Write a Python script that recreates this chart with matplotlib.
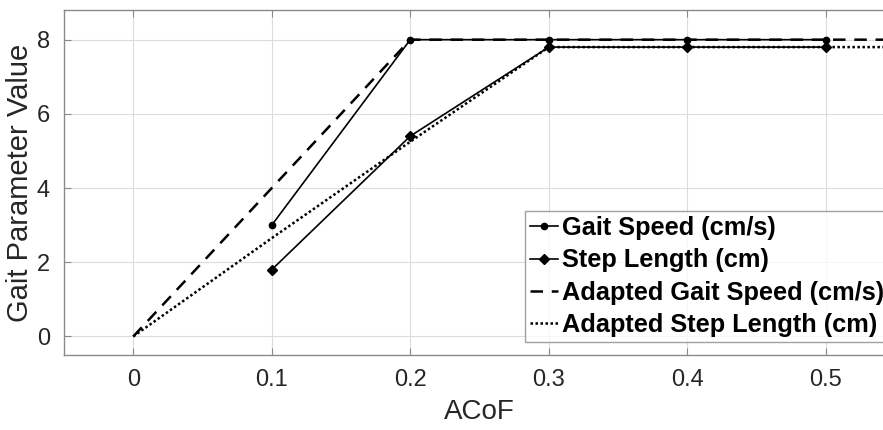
import matplotlib.pyplot as plt

plt.rcParams['font.family'] = ['Liberation Sans', 'DejaVu Sans']

acof = [0.1, 0.2, 0.3, 0.4, 0.5]
gait_speed = [3.0, 8.0, 8.0, 8.0, 8.0]
step_length = [1.8, 5.4, 7.8, 7.8, 7.8]

acof_adapted = [0.0, 0.1, 0.2, 0.3, 0.4, 0.5, 0.6]
adapted_speed = [0.0, 4.0, 8.0, 8.0, 8.0, 8.0, 8.0]
adapted_step = [0.0, 2.65, 5.25, 7.8, 7.8, 7.8, 7.8]

xticks = [0, 0.1, 0.2, 0.3, 0.4, 0.5]
xtick_labels = ['0', '0.1', '0.2', '0.3', '0.4', '0.5']
yticks = [0, 2, 4, 6, 8]

fig = plt.figure(figsize=(8.83, 4.30), dpi=100)
ax = fig.add_axes([64/883, 1 - 355/430, 831/883, 345/430])

ax.plot(acof, gait_speed, color='black', lw=1.2, marker='o', ms=4.5,
        label='Gait Speed (cm/s)')
ax.plot(acof, step_length, color='black', lw=1.2, marker='D', ms=5,
        label='Step Length (cm)')
ax.plot(acof_adapted, adapted_speed, color='black', lw=1.8, ls=(0, (5, 3.5)),
        label='Adapted Gait Speed (cm/s)')
ax.plot(acof_adapted, adapted_step, color='black', lw=1.8, ls=(0, (1, 1)),
        label='Adapted Step Length (cm)')

ax.set_xlim(-0.05, 0.55)
ax.set_ylim(-0.5, 8.8)
ax.set_xticks(xticks)
ax.set_xticklabels(xtick_labels)
ax.set_yticks(yticks)

ax.grid(True, color='#dcdcdc', lw=0.8)
ax.set_axisbelow(True)
for s in ax.spines.values():
    s.set_color('#8a8a8a')
    s.set_linewidth(1.0)
ax.tick_params(direction='in', length=5, width=0.8, color='#8a8a8a',
               labelsize=17, labelcolor='#262626', top=True, right=True, pad=10)

ax.set_xlabel('ACoF', fontsize=20, color='#262626', labelpad=6)
ax.set_ylabel('Gait Parameter Value', fontsize=21, color='#262626', labelpad=2)

leg = fig.legend(loc='upper left', bbox_to_anchor=(525/883, 1 - 211/430),
                 prop={'weight': 'bold', 'size': 18.3}, handlelength=1.1,
                 handletextpad=0.15, labelspacing=0.33, borderpad=0.2,
                 borderaxespad=0, frameon=True, fancybox=False)
leg.get_frame().set_edgecolor('#8a8a8a')
leg.get_frame().set_linewidth(1.0)

fig.savefig('out.png', dpi=100)
